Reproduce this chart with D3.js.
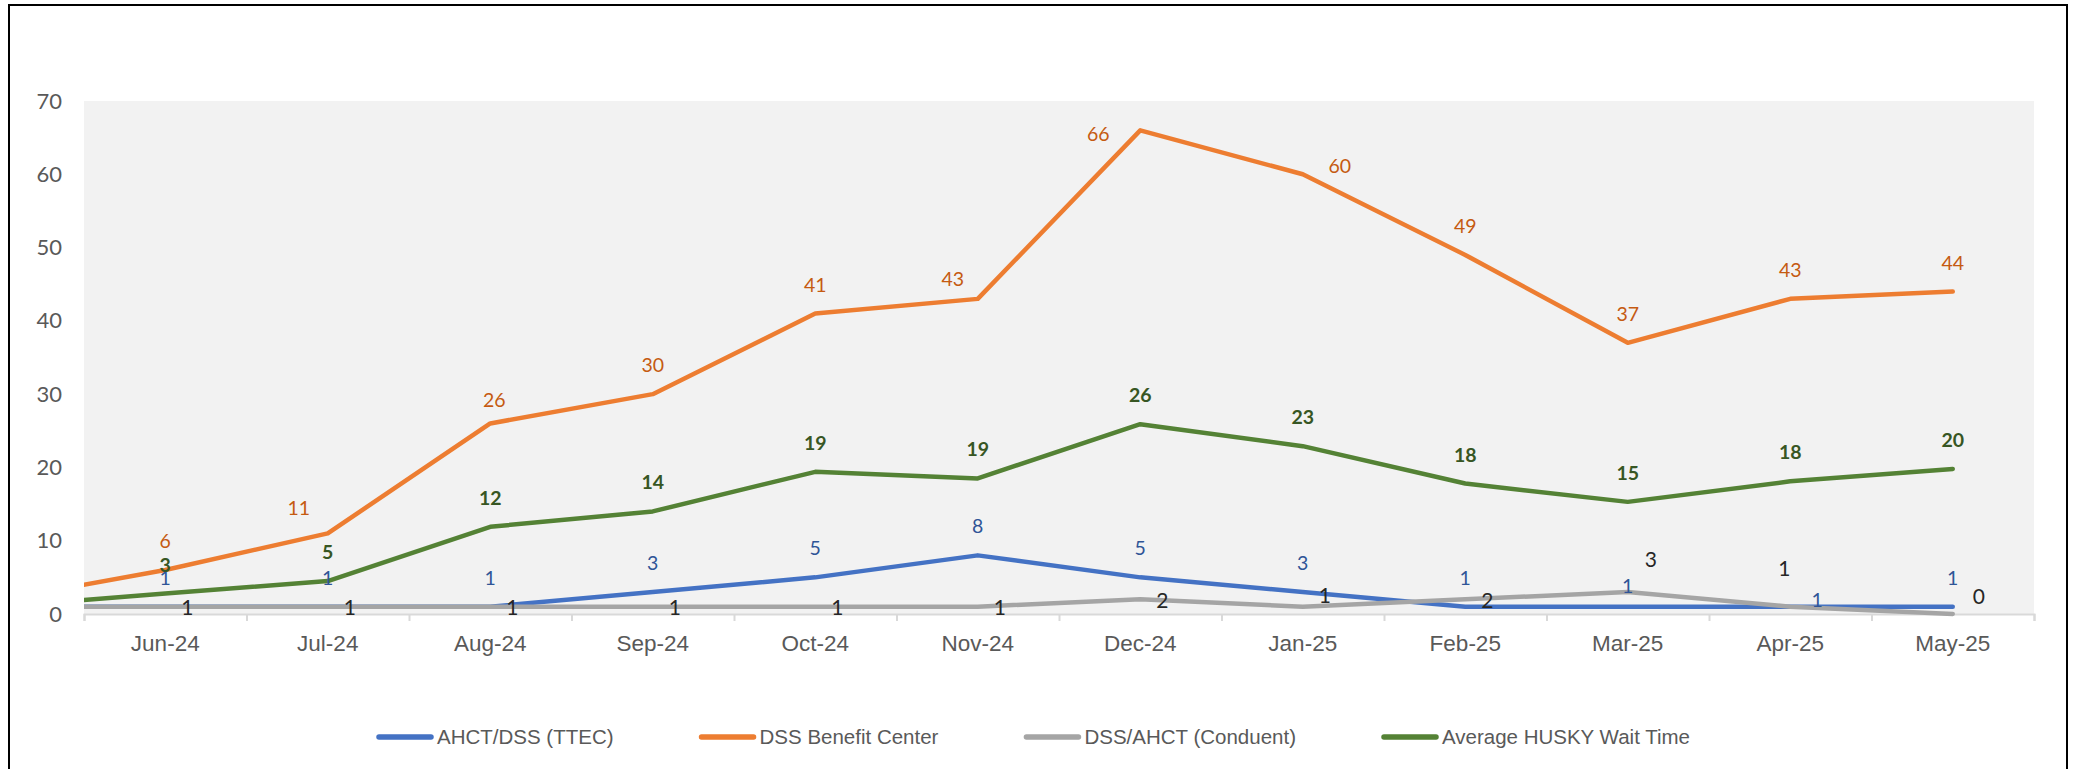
<!DOCTYPE html>
<html>
<head>
<meta charset="utf-8">
<script src="https://cdn.jsdelivr.net/npm/d3@7"></script>
<style>
  html, body { margin: 0; padding: 0; background: #fff; }
  svg { display: block; }
</style>
</head>
<body>
<script>
// months on the category axis
var months = ["Jun-24", "Jul-24", "Aug-24", "Sep-24", "Oct-24", "Nov-24",
              "Dec-24", "Jan-25", "Feb-25", "Mar-25", "Apr-25", "May-25"];

// series values, one per month
var ttec          = [1, 1, 1, 3, 5, 8, 5, 3, 1, 1, 1, 1];
var benefitCenter = [6, 11, 26, 30, 41, 43, 66, 60, 49, 37, 43, 44];
var conduent      = [1, 1, 1, 1, 1, 1, 2, 1, 2, 3, 1, 0];
var huskyWait     = [2.8, 4.5, 11.9, 14.0, 19.4, 18.5, 25.9, 22.9, 17.8, 15.3, 18.1, 19.8];

// the month before Jun-24 sits off the left edge of the plot (only the line stub shows)
var priorMonth  = "May-24";
var priorValues = [1, 2, 1, 1];   // ttec, benefit center, conduent, husky

var seriesNames = ["AHCT/DSS (TTEC)", "DSS Benefit Center", "DSS/AHCT (Conduent)", "Average HUSKY Wait Time"];
var yTicks = [0, 10, 20, 30, 40, 50, 60, 70];

// ---- styles ----
var lineColors  = ["#4472C4", "#ED7D31", "#A5A5A5", "#548235"];
var labelColors = ["#2F5597", "#C55A11", "#262626", "#375623"];
var labelWeight = ["normal", "normal", "normal", "bold"];

// label offsets (dx, dy) from the point, per series; default then exceptions by month index
var labelDefault = [[0, -29], [0, -29], [22, 1], [0, -29]];
var labelExtra = [
  {9: [0, -21], 10: [27, -7]},
  {1: [-29, -25], 2: [4, -23], 5: [-25, -20], 6: [-42, 4], 7: [37, -8]},
  {7: [22, -11], 9: [23, -33], 10: [-6, -38], 11: [26, -18]},
  {}
];

var W = 2074, H = 769;
var plot = {left: 84, right: 2034, top: 101, bottom: 614};

var svg = d3.select("body")
  .append("svg")
    .attr("width", W)
    .attr("height", H);

// outer chart border
svg.append("rect")
  .attr("x", 9).attr("y", 5)
  .attr("width", 2058).attr("height", 790)
  .attr("fill", "#fff")
  .attr("stroke", "#000")
  .attr("stroke-width", 2);

// plot area
svg.append("rect")
  .attr("x", plot.left).attr("y", plot.top)
  .attr("width", plot.right - plot.left).attr("height", plot.bottom - plot.top)
  .attr("fill", "#F2F2F2");

var x = d3.scaleBand().domain(months).range([plot.left, plot.right]).paddingInner(0).paddingOuter(0);
var xIdx = d3.scaleLinear().domain([0, months.length]).range([plot.left, plot.right]);
var y = d3.scaleLinear().domain([0, 70]).range([plot.bottom, plot.top]);

function cx(i) { return xIdx(i + 0.5); }

// y axis labels
var yAxis = svg.append("g")
  .attr("transform", "translate(" + (plot.left - 22) + ",0)")
  .call(d3.axisLeft(y).tickValues(yTicks).tickSize(0).tickPadding(0));
yAxis.select(".domain").remove();
yAxis.selectAll("text")
  .attr("font-family", "Lato, 'Noto Sans', sans-serif")
  .attr("font-size", 22)
  .attr("fill", "#595959");

// x axis: line + tick marks at band boundaries
var xTicks = svg.append("g")
  .attr("transform", "translate(0," + plot.bottom + ")")
  .call(d3.axisBottom(xIdx).tickValues(d3.range(0, months.length + 1)).tickSize(7).tickFormat(""));
xTicks.selectAll("line, path").attr("stroke", "#D9D9D9").attr("stroke-width", 2);

// x axis labels at band centres
var xLabels = svg.append("g")
  .attr("transform", "translate(0," + plot.bottom + ")")
  .call(d3.axisBottom(x).tickSize(0).tickPadding(21));
xLabels.select(".domain").remove();
xLabels.selectAll("text")
  .attr("font-family", "'Liberation Sans', Arial, sans-serif")
  .attr("font-size", 22.5)
  .attr("fill", "#595959");

// lines, clipped to the plot area
svg.append("clipPath").attr("id", "plotClip")
  .append("rect")
    .attr("x", plot.left).attr("y", plot.top - 10)
    .attr("width", plot.right - plot.left).attr("height", plot.bottom - plot.top + 20);

var allSeries = [ttec, benefitCenter, conduent, huskyWait];

var line = d3.line()
  .x(function(d) { return cx(d.i); })
  .y(function(d) { return y(d.v); });

allSeries.forEach(function(vals, s) {
  var pts = [{i: -1, v: priorValues[s]}].concat(vals.map(function(v, i) { return {i: i, v: v}; }));
  svg.append("path")
    .datum(pts)
    .attr("clip-path", "url(#plotClip)")
    .attr("d", line)
    .attr("fill", "none")
    .attr("stroke", lineColors[s])
    .attr("stroke-width", 4.5)
    .attr("stroke-linejoin", "round")
    .attr("stroke-linecap", "round");
});

// data labels
allSeries.forEach(function(vals, s) {
  svg.append("g").selectAll("text")
    .data(vals)
    .enter().append("text")
      .attr("x", function(d, i) {
        var o = labelExtra[s][i] || labelDefault[s];
        return cx(i) + o[0];
      })
      .attr("y", function(d, i) {
        var o = labelExtra[s][i] || labelDefault[s];
        return y(d) + o[1];
      })
      .attr("dy", "0.36em")
      .attr("text-anchor", "middle")
      .attr("font-family", "Lato, 'Noto Sans', sans-serif")
      .attr("font-size", s == 2 ? 21 : 19.5)
      .attr("font-weight", labelWeight[s])
      .attr("fill", labelColors[s])
      .text(function(d) { return d3.format(".0f")(d); });
});

// legend
var legend = svg.append("g").attr("transform", "translate(377,737)");
var lx = 0;
seriesNames.forEach(function(name, s) {
  var item = legend.append("g").attr("transform", "translate(" + lx + ",0)");
  item.append("line")
    .attr("x1", 2).attr("x2", 54).attr("y1", 0).attr("y2", 0)
    .attr("stroke", lineColors[s])
    .attr("stroke-width", 5.5)
    .attr("stroke-linecap", "round");
  var t = item.append("text")
    .attr("x", 60).attr("y", 0).attr("dy", "0.35em")
    .attr("font-family", "'Liberation Sans', Arial, sans-serif")
    .attr("font-size", 20.5)
    .attr("fill", "#595959")
    .text(name);
  lx += 60 + t.node().getComputedTextLength() + 86;
});
</script>
</body>
</html>
